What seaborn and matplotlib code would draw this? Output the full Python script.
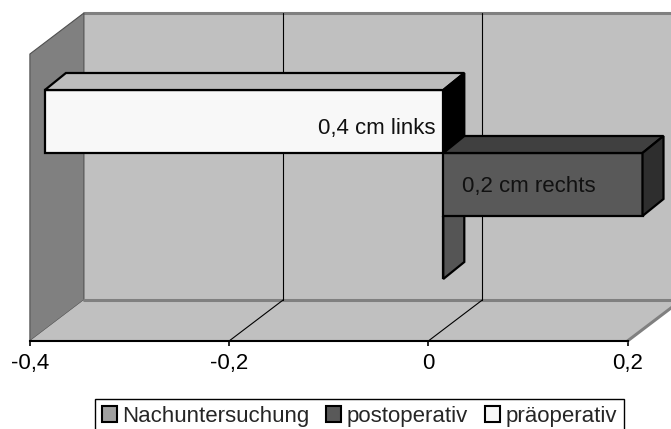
import numpy as np
import pandas as pd
import matplotlib
matplotlib.use("Agg")
import matplotlib.pyplot as plt
from matplotlib.patches import Polygon, Patch
import seaborn as sns

# ---------------- data ----------------
categories = ["präoperativ", "postoperativ", "Nachuntersuchung"]
values = [-0.4, 0.2, 0.0]
bar_labels = ["0,4 cm links", "0,2 cm rechts", ""]
tick_values = [-0.4, -0.2, 0.0, 0.2]
tick_labels = ["-0,4", "-0,2", "0", "0,2"]
legend_order = ["Nachuntersuchung", "postoperativ", "präoperativ"]

# ---------------- style ----------------
front_colors = {"präoperativ": "#f8f8f8", "postoperativ": "#595959", "Nachuntersuchung": "#a0a0a0"}
top_colors = {"präoperativ": "#bdbdbd", "postoperativ": "#404040", "Nachuntersuchung": "#707070"}
side_colors = {"präoperativ": "#000000", "postoperativ": "#2e2e2e", "Nachuntersuchung": "#555555"}

sns.set_style("white")
plt.rcParams["font.family"] = ["Liberation Sans", "DejaVu Sans"]
FS = 16

W, H = 671, 429
fig = plt.figure(figsize=(W / 100, H / 100), dpi=100)

# geometry (pixels)
PX_PER_UNIT = 996.0
X0_FRONT = 428.3          # pixel of value 0 on the front axis
Y_FRONT = 341.0           # front floor edge
DEPTH_DX = 54.0 / PX_PER_UNIT
DEPTH_DY = -41.0          # pixels
Y_TOP_BACK = 13.0

# ---------------- background axes (walls, floor, axis) ----------------
ax = fig.add_axes([0, 0, 1, 1])
ax.set_xlim(-X0_FRONT / PX_PER_UNIT, (W - X0_FRONT) / PX_PER_UNIT)
ax.set_ylim(H, 0)
ax.set_facecolor("white")

vmin, vmax = tick_values[0], tick_values[-1]
yb = Y_FRONT + DEPTH_DY   # back floor line
x_extra = (W + 40 - X0_FRONT) / PX_PER_UNIT

# back wall
ax.add_patch(Polygon([(vmin + DEPTH_DX, yb), (x_extra, yb), (x_extra, Y_TOP_BACK),
                      (vmin + DEPTH_DX, Y_TOP_BACK)], closed=True,
                     facecolor="#c0c0c0", edgecolor="none", zorder=0.5))
ax.plot([vmin + DEPTH_DX, x_extra], [Y_TOP_BACK, Y_TOP_BACK], color="#808080", lw=2.2, zorder=0.6)
# left wall
ax.add_patch(Polygon([(vmin, Y_FRONT), (vmin, Y_TOP_BACK - DEPTH_DY),
                      (vmin + DEPTH_DX, Y_TOP_BACK), (vmin + DEPTH_DX, yb)], closed=True,
                     facecolor="#808080", edgecolor="#505050", lw=0.8, zorder=0.7))
# floor
ax.add_patch(Polygon([(vmin, Y_FRONT), (vmax, Y_FRONT), (vmax + DEPTH_DX, yb),
                      (vmin + DEPTH_DX, yb)], closed=True,
                     facecolor="#c0c0c0", edgecolor="none", zorder=0.8))
ax.plot([vmin + DEPTH_DX, vmax + DEPTH_DX], [yb, yb], color="#808080", lw=2.2, zorder=0.9)
ax.plot([vmax, vmax + DEPTH_DX], [Y_FRONT, yb], color="#808080", lw=2.2, zorder=0.9)
# gridlines on back wall and floor
for v in tick_values[1:-1]:
    ax.plot([v + DEPTH_DX, v + DEPTH_DX], [Y_TOP_BACK, yb], color="black", lw=0.8, zorder=1)
    ax.plot([v, v + DEPTH_DX], [Y_FRONT, yb], color="black", lw=0.8, zorder=1)

# axis
for s in ["top", "right", "left"]:
    ax.spines[s].set_visible(False)
ax.spines["bottom"].set_position(("data", Y_FRONT))
ax.spines["bottom"].set_bounds(vmin, vmax)
ax.spines["bottom"].set_color("black")
ax.spines["bottom"].set_linewidth(1.5)
ax.spines["bottom"].set_zorder(2)
ax.set_xticks(tick_values, tick_labels)
ax.tick_params(axis="x", direction="out", length=3.5, width=1.2, pad=5.0,
               labelsize=FS, colors="black", bottom=True)
ax.set_yticks([])

# ---------------- bars axes ----------------
axb = fig.add_axes([0, 0, 1, 1])
axb.patch.set_alpha(0)
BAR_X0 = 443.3
BAR_C0 = 121.5
BAR_STEP = 63.0
axb.set_xlim(-BAR_X0 / PX_PER_UNIT, (W - BAR_X0) / PX_PER_UNIT)

df = pd.DataFrame({"Serie": categories, "Wert": values})
sns.barplot(data=df, x="Wert", y="Serie", hue="Serie", order=categories, hue_order=categories,
            palette=front_colors, orient="h", width=1.0, saturation=1,
            edgecolor="black", linewidth=1.6, legend=False, ax=axb)
axb.set_ylim((H - BAR_C0) / BAR_STEP, -BAR_C0 / BAR_STEP)
axb.set_xlim(-BAR_X0 / PX_PER_UNIT, (W - BAR_X0) / PX_PER_UNIT)
axb.axis("off")

BDX = 21.0 / PX_PER_UNIT
BDY = -17.0 / BAR_STEP
zbase = {"Nachuntersuchung": 1, "präoperativ": 2, "postoperativ": 4}
for p in list(axb.patches):
    x, y = p.get_x(), p.get_y()
    w, h = p.get_width(), p.get_height()
    idx = int(round(y + h / 2))
    cat = categories[idx]
    x0, x1 = min(x, x + w), max(x, x + w)
    yt, ybot = min(y, y + h), max(y, y + h)
    z = zbase[cat]
    p.set_zorder(z)
    if x1 - x0 > 0:
        axb.add_patch(Polygon([(x0, yt), (x1, yt), (x1 + BDX, yt + BDY), (x0 + BDX, yt + BDY)],
                              closed=True, facecolor=top_colors[cat], edgecolor="black",
                              lw=1.6, joinstyle="miter", zorder=z + 0.5))
    axb.add_patch(Polygon([(x1, yt), (x1, ybot), (x1 + BDX, ybot + BDY), (x1 + BDX, yt + BDY)],
                          closed=True, facecolor=side_colors[cat], edgecolor="black",
                          lw=1.6, joinstyle="miter", zorder=z + 0.5))

# data labels
for i, (cat, val, lab) in enumerate(zip(categories, values, bar_labels)):
    if not lab:
        continue
    if val < 0:
        axb.text(-8.0 / PX_PER_UNIT, i + 12.5 / BAR_STEP, lab, ha="right", va="baseline",
                 fontsize=FS, color="#111111", zorder=10)
    else:
        axb.text(19.0 / PX_PER_UNIT, i + 7.5 / BAR_STEP, lab, ha="left", va="baseline",
                 fontsize=FS, color="#111111", zorder=10)

# legend
handles = [Patch(facecolor=front_colors[c], edgecolor="black", linewidth=1.5) for c in legend_order]
leg = fig.legend(handles, legend_order, loc="upper left",
                 bbox_to_anchor=(95 / W, 1 - 399 / H), bbox_transform=fig.transFigure,
                 ncol=3, frameon=True, fancybox=False, edgecolor="black", framealpha=1,
                 borderaxespad=0, handlelength=0.68, handleheight=0.68, handletextpad=0.25,
                 columnspacing=0.75, borderpad=0.3, fontsize=FS)
leg.get_frame().set_linewidth(1.0)

fig.savefig("out.png", dpi=100)
